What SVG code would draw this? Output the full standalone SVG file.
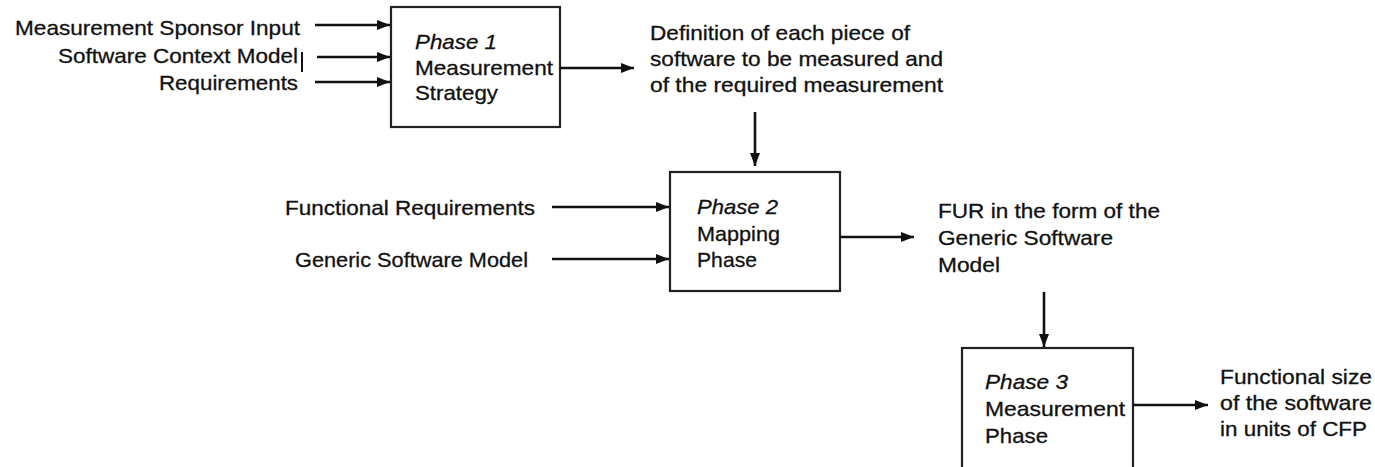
<svg xmlns="http://www.w3.org/2000/svg" width="1375" height="467" viewBox="0 0 1375 467">
  <defs>
    <marker id="arr" markerUnits="userSpaceOnUse" markerWidth="14" markerHeight="12" refX="13" refY="6" orient="auto">
      <path d="M0,1 L13,6 L0,11 z" fill="#111"/>
    </marker>
    <style>
      text { font-family: "Liberation Sans", Arial, sans-serif; font-size: 21px; fill: #111; stroke: #111; stroke-width: 0.3; }
      .it { font-style: italic; }
      .box { fill: #fff; stroke: #222; stroke-width: 2.2; }
      .conn line { stroke: #111; stroke-width: 2.6; marker-end: url(#arr); }
    </style>
  </defs>
  <rect width="1375" height="467" fill="#fff"/>

  <g id="inputs1">
    <text x="15" y="35" textLength="285" lengthAdjust="spacingAndGlyphs">Measurement Sponsor Input</text>
    <text x="58" y="63" textLength="240" lengthAdjust="spacingAndGlyphs">Software Context Model</text>
    <line x1="302" y1="52" x2="302" y2="72" stroke="#111" stroke-width="2"/>
    <text x="159" y="90" textLength="139" lengthAdjust="spacingAndGlyphs">Requirements</text>
  </g>

  <g id="phase1">
    <rect class="box" x="391" y="7" width="169" height="120"/>
    <text class="it" x="415" y="49" textLength="82" lengthAdjust="spacingAndGlyphs">Phase 1</text>
    <text x="415" y="75" textLength="138" lengthAdjust="spacingAndGlyphs">Measurement</text>
    <text x="415" y="100" textLength="83" lengthAdjust="spacingAndGlyphs">Strategy</text>
  </g>

  <g id="definition">
    <text x="650" y="40" textLength="260" lengthAdjust="spacingAndGlyphs">Definition of each piece of</text>
    <text x="650" y="66" textLength="293" lengthAdjust="spacingAndGlyphs">software to be measured and</text>
    <text x="650" y="92" textLength="293" lengthAdjust="spacingAndGlyphs">of the required measurement</text>
  </g>

  <g id="inputs2">
    <text x="285" y="215" textLength="250" lengthAdjust="spacingAndGlyphs">Functional Requirements</text>
    <text x="295" y="267" textLength="233" lengthAdjust="spacingAndGlyphs">Generic Software Model</text>
  </g>

  <g id="phase2">
    <rect class="box" x="670" y="172" width="170" height="119"/>
    <text class="it" x="697" y="214" textLength="81" lengthAdjust="spacingAndGlyphs">Phase 2</text>
    <text x="697" y="241" textLength="83" lengthAdjust="spacingAndGlyphs">Mapping</text>
    <text x="697" y="267" textLength="60" lengthAdjust="spacingAndGlyphs">Phase</text>
  </g>

  <g id="fur">
    <text x="938" y="218" textLength="222" lengthAdjust="spacingAndGlyphs">FUR in the form of the</text>
    <text x="938" y="245" textLength="175" lengthAdjust="spacingAndGlyphs">Generic Software</text>
    <text x="938" y="272" textLength="62" lengthAdjust="spacingAndGlyphs">Model</text>
  </g>

  <g id="phase3">
    <rect class="box" x="962" y="348" width="171" height="140"/>
    <text class="it" x="985" y="389" textLength="83" lengthAdjust="spacingAndGlyphs">Phase 3</text>
    <text x="985" y="416" textLength="140" lengthAdjust="spacingAndGlyphs">Measurement</text>
    <text x="985" y="443" textLength="63" lengthAdjust="spacingAndGlyphs">Phase</text>
  </g>

  <g id="size">
    <text x="1220" y="384" textLength="152" lengthAdjust="spacingAndGlyphs">Functional size</text>
    <text x="1220" y="410" textLength="152" lengthAdjust="spacingAndGlyphs">of the software</text>
    <text x="1220" y="436" textLength="147" lengthAdjust="spacingAndGlyphs">in units of CFP</text>
  </g>

  <g id="connectors" class="conn">
    <line x1="315" y1="25" x2="390" y2="25"/>
    <line x1="317" y1="57" x2="390" y2="57"/>
    <line x1="315" y1="82" x2="390" y2="82"/>
    <line x1="560" y1="68" x2="634" y2="68"/>
    <line x1="755" y1="112" x2="755" y2="166"/>
    <line x1="552" y1="207" x2="669" y2="207"/>
    <line x1="552" y1="259" x2="669" y2="259"/>
    <line x1="840" y1="237" x2="914" y2="237"/>
    <line x1="1044" y1="292" x2="1044" y2="347"/>
    <line x1="1133" y1="405" x2="1208" y2="405"/>
  </g>
</svg>
